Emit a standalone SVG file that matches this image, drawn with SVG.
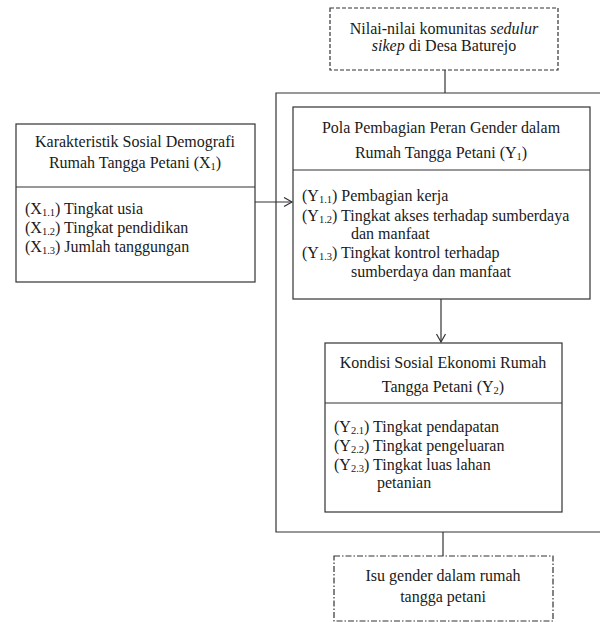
<svg xmlns="http://www.w3.org/2000/svg" width="600" height="622" viewBox="0 0 600 622">
<style>
text{font-family:"Liberation Serif","Times New Roman",serif;font-size:16px;fill:#1a1a1a}
.c{text-anchor:middle}
.box{fill:#fff;stroke:#333;stroke-width:1.2}
.ln{stroke:#333;stroke-width:1.2;fill:none}
.sub{font-size:10.5px}
</style>
<defs>
<marker id="ah" markerUnits="userSpaceOnUse" markerWidth="12" markerHeight="12" refX="9" refY="5" orient="auto">
<path d="M1,0.5 L9,5 L1,9.5" fill="none" stroke="#333" stroke-width="1.2"/>
</marker>
</defs>
<rect width="600" height="622" fill="#fff"/>

<g id="outer-frame">
<path class="ln" d="M610,93 H276 V532 H610"/>
</g>

<g id="connectors">
<line class="ln" x1="445" y1="70" x2="445" y2="93"/>
<line class="ln" x1="255" y1="202" x2="292" y2="202" marker-end="url(#ah)"/>
<line class="ln" x1="441" y1="299" x2="441" y2="342" marker-end="url(#ah)"/>
<line class="ln" x1="443" y1="532" x2="443" y2="556"/>
</g>

<g id="node-sedulur">
<rect x="330" y="8" width="228" height="62" fill="#fff" stroke="#333" stroke-width="1.2" stroke-dasharray="4 2"/>
<text class="c" x="444" y="34">Nilai-nilai komunitas <tspan font-style="italic">sedulur</tspan></text>
<text class="c" x="444" y="51"><tspan font-style="italic">sikep</tspan> di Desa Baturejo</text>
</g>

<g id="node-x1">
<rect class="box" x="16" y="124" width="239" height="158"/>
<line class="ln" x1="16" y1="187" x2="255" y2="187"/>
<text class="c" x="135" y="147">Karakteristik Sosial Demografi</text>
<text class="c" x="135" y="168">Rumah Tangga Petani (X<tspan class="sub" dy="2">1</tspan><tspan dy="-2">)</tspan></text>
<text x="25" y="214">(X<tspan class="sub" dy="2">1.1</tspan><tspan dy="-2">) Tingkat usia</tspan></text>
<text x="25" y="233">(X<tspan class="sub" dy="2">1.2</tspan><tspan dy="-2">) Tingkat pendidikan</tspan></text>
<text x="25" y="252">(X<tspan class="sub" dy="2">1.3</tspan><tspan dy="-2">) Jumlah tanggungan</tspan></text>
</g>

<g id="node-y1">
<rect class="box" x="293" y="107" width="297" height="192"/>
<line class="ln" x1="293" y1="170" x2="590" y2="170"/>
<text class="c" x="441" y="133">Pola Pembagian Peran Gender dalam</text>
<text class="c" x="441" y="158">Rumah Tangga Petani (Y<tspan class="sub" dy="2">1</tspan><tspan dy="-2">)</tspan></text>
<text x="302" y="201">(Y<tspan class="sub" dy="2">1.1</tspan><tspan dy="-2">) Pembagian kerja</tspan></text>
<text x="302" y="221">(Y<tspan class="sub" dy="2">1.2</tspan><tspan dy="-2">) Tingkat akses terhadap sumberdaya</tspan></text>
<text x="351" y="239">dan manfaat</text>
<text x="302" y="258">(Y<tspan class="sub" dy="2">1.3</tspan><tspan dy="-2">) Tingkat kontrol terhadap</tspan></text>
<text x="351" y="277">sumberdaya dan manfaat</text>
</g>

<g id="node-y2">
<rect class="box" x="325" y="343" width="237" height="169"/>
<line class="ln" x1="325" y1="403" x2="562" y2="403"/>
<text class="c" x="443" y="368">Kondisi Sosial Ekonomi Rumah</text>
<text class="c" x="443" y="392">Tangga Petani (Y<tspan class="sub" dy="2">2</tspan><tspan dy="-2">)</tspan></text>
<text x="334" y="432">(Y<tspan class="sub" dy="2">2.1</tspan><tspan dy="-2">) Tingkat pendapatan</tspan></text>
<text x="334" y="451">(Y<tspan class="sub" dy="2">2.2</tspan><tspan dy="-2">) Tingkat pengeluaran</tspan></text>
<text x="334" y="470">(Y<tspan class="sub" dy="2">2.3</tspan><tspan dy="-2">) Tingkat luas lahan</tspan></text>
<text x="377" y="488">petanian</text>
</g>

<g id="node-isu">
<rect x="334" y="556" width="219" height="65" fill="#fff" stroke="#333" stroke-width="1.2" stroke-dasharray="6 2 1.5 2"/>
<text class="c" x="443" y="581">Isu gender dalam rumah</text>
<text class="c" x="443" y="602">tangga petani</text>
</g>
</svg>
